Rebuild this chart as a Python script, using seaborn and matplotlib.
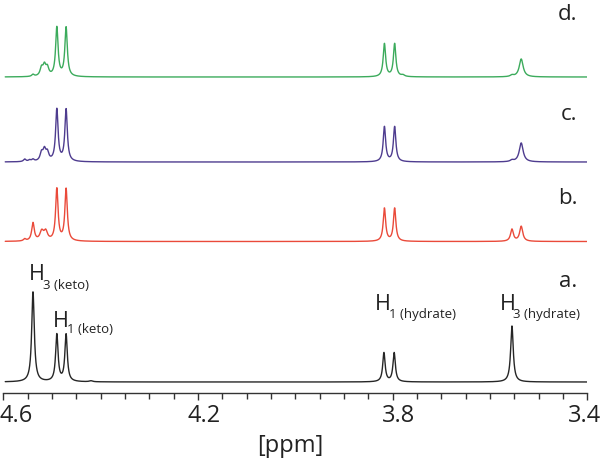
import numpy as np
import pandas as pd
import matplotlib
matplotlib.use("Agg")
import matplotlib.pyplot as plt
import matplotlib.transforms as mtransforms
from matplotlib.ticker import MultipleLocator, FixedLocator
import seaborn as sns

# ---------------- data (peak lists) ----------------
spectra = ["a.", "b.", "c.", "d."]
colors = ["#262626", "#ea4a3a", "#4e3c8f", "#3cab5c"]

peaks_a_ppm = [4.539, 4.490, 4.471, 4.420, 3.818, 3.797, 3.555]
peaks_a_h   = [90, 47, 47, 1, 29, 29, 56]
peaks_a_w   = [0.0032, 0.0030, 0.0030, 0.004, 0.0030, 0.0030, 0.0032]

peaks_b_ppm = [4.556, 4.539, 4.5211, 4.5129, 4.490, 4.471, 3.817, 3.796, 3.555, 3.536]
peaks_b_h   = [2, 18, 9, 9, 52, 52, 33, 33, 12, 15]
peaks_b_w   = [0.003, 0.0032, 0.0045, 0.0045, 0.0030, 0.0030, 0.0030, 0.0030, 0.0035, 0.0038]

peaks_c_ppm = [4.556, 4.546, 4.539, 4.5215, 4.5155, 4.5095, 4.490, 4.471, 3.817, 3.796, 3.555, 3.536]
peaks_c_h   = [2.5, 1.5, 2, 8, 10.5, 8, 52, 52, 35, 35, 1.5, 19]
peaks_c_w   = [0.003, 0.003, 0.003, 0.0035, 0.0035, 0.0035, 0.0030, 0.0030, 0.0030, 0.0030, 0.004, 0.0048]

peaks_d_ppm = [4.539, 4.5215, 4.5155, 4.5095, 4.490, 4.471, 3.817, 3.796, 3.779, 3.555, 3.536]
peaks_d_h   = [2, 8, 10, 8, 49, 49, 33, 33, 1.5, 1.5, 18]
peaks_d_w   = [0.003, 0.0035, 0.0035, 0.0035, 0.0030, 0.0030, 0.0030, 0.0030, 0.004, 0.004, 0.0048]

tick_values = [4.6, 4.2, 3.8, 3.4]
tick_labels = ["4.6", "4.2", "3.8", "3.4"]
xlabel = "[ppm]"

peak_labels_main = ["H", "H", "H", "H"]
peak_labels_sub = ["3 (keto)", "1 (keto)", "1 (hydrate)", "3 (hydrate)"]

# ---------------- layout constants ----------------
offsets = [10.5, 151.0, 230.5, 315.5]   # vertical stacking of the traces
label_y = [105.5, 188.5, 272.5, 372.5]

peak_sets = [
    (peaks_a_ppm, peaks_a_h, peaks_a_w),
    (peaks_b_ppm, peaks_b_h, peaks_b_w),
    (peaks_c_ppm, peaks_c_h, peaks_c_w),
    (peaks_d_ppm, peaks_d_h, peaks_d_w),
]

grid = np.linspace(4.596, 3.401, 5000)
rows = []
for name, (pp, hh, ww), off in zip(spectra, peak_sets, offsets):
    y = np.zeros_like(grid)
    for p, h, w in zip(pp, hh, ww):
        y += h / (1.0 + ((grid - p) / w) ** 2)
    rows.append(pd.DataFrame({"ppm": grid, "y": y + off, "spectrum": name}))
df = pd.concat(rows, ignore_index=True)

sns.set_theme(style="white")
plt.rcParams["font.family"] = ["Open Sans", "DejaVu Sans"]

fig = plt.figure(figsize=(6.0, 4.59), dpi=100)
ax = fig.add_axes([3.3 / 600, 1 - 392.5 / 459, (587.4 - 3.3) / 600, 392.5 / 459])

sns.lineplot(data=df, x="ppm", y="y", hue="spectrum", palette=dict(zip(spectra, colors)),
             estimator=None, sort=False, legend=False, linewidth=1.0, ax=ax)

ax.set_xlim(4.6, 3.4)
ax.set_ylim(0, 392.5)
for s in ["top", "left", "right"]:
    ax.spines[s].set_visible(False)
ax.spines["bottom"].set_color("#333333")
ax.spines["bottom"].set_linewidth(1.0)
ax.set_yticks([])
ax.set_ylabel("")
ax.xaxis.set_major_locator(FixedLocator(tick_values))
ax.xaxis.set_minor_locator(MultipleLocator(0.05))
ax.set_xticks(tick_values)
ax.set_xticklabels(tick_labels, fontsize=17, color="#222222")
ax.tick_params(axis="x", which="major", direction="out", length=5, width=1.0, color="#333333", pad=3, bottom=True)
ax.tick_params(axis="x", which="minor", direction="out", length=4, width=1.0, color="#333333", bottom=True)
ax.set_xlabel(xlabel, fontsize=17, color="#222222", labelpad=6)
ax.xaxis.set_label_coords((290.5 - 3.3) / 584.1, -0.105)

shifts = [13, 6, 6, -3]
for lab, dx in zip(ax.get_xticklabels(), shifts):
    lab.set_transform(lab.get_transform() + mtransforms.ScaledTranslation(dx / 100, 0, fig.dpi_scale_trans))

# spectrum letters
for name, yy in zip(spectra, label_y):
    ax.text(3.421, yy, name, ha="right", va="baseline", fontsize=16, color="#222222")

# peak labels
main_pos = [(4.547, 112.5), (4.498, 65.5), (3.837, 82.5), (3.580, 82.5)]
sub_pos = [(4.519, 103.5), (4.469, 59.5), (3.808, 74.5), (3.553, 74.5)]
for m, s, (mx, my), (sx, sy) in zip(peak_labels_main, peak_labels_sub, main_pos, sub_pos):
    ax.text(mx, my, m, ha="left", va="baseline", fontsize=15.5, color="#222222")
    ax.text(sx, sy, s, ha="left", va="baseline", fontsize=9.5, color="#222222")

fig.savefig("out.png", dpi=100)
